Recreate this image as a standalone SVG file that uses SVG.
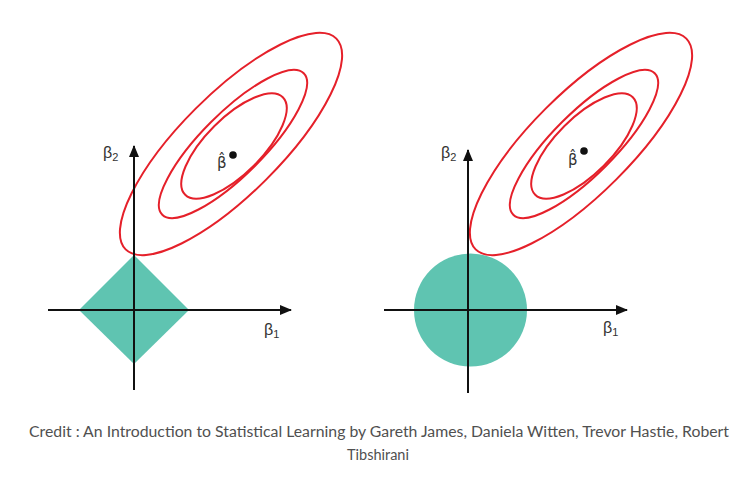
<svg xmlns="http://www.w3.org/2000/svg" width="756" height="488" viewBox="0 0 756 488">
  <defs>
    <marker id="arrow" markerUnits="userSpaceOnUse" markerWidth="12" markerHeight="10" refX="11" refY="5" orient="auto">
      <path d="M0,0 L12,5 L0,10 z" fill="#111"/>
    </marker>
    <style>
      .axis { stroke:#111; stroke-width:2; fill:none; marker-end:url(#arrow); }
      .region { fill:#5fc4b1; stroke:none; }
      .contour { fill:none; stroke:#e5202a; stroke-width:2; }
      .lbl { font-family:"Liberation Sans", Arial, sans-serif; fill:#333; }
      .bh { font-family:"DejaVu Sans", "Liberation Sans", sans-serif; fill:#333; font-size:15px; }
      .sym { font-size:16px; }
      .sub { font-size:11px; }
      .caption { font-family:"Lato", "Liberation Sans", sans-serif; font-size:14.5px; fill:#505050; }
    </style>
  </defs>
  <rect width="756" height="488" fill="#ffffff"/>

  <g id="lasso-region">
    <polygon class="region" points="134,255 189,310 134,364 79,310"/>
  </g>
  <g id="ridge-region">
    <circle class="region" cx="470.5" cy="310" r="56.5"/>
  </g>

  <g id="left-contours">
    <ellipse class="contour" cx="231" cy="144" rx="149" ry="50" transform="rotate(-45 231 144)"/>
    <ellipse class="contour" cx="233" cy="144" rx="100" ry="31" transform="rotate(-45 233 144)"/>
    <ellipse class="contour" cx="234" cy="146" rx="69" ry="28" transform="rotate(-45 234 146)"/>
  </g>
  <g id="right-contours">
    <ellipse class="contour" cx="581" cy="144" rx="149" ry="50" transform="rotate(-45 581 144)"/>
    <ellipse class="contour" cx="584" cy="144" rx="100" ry="31" transform="rotate(-45 584 144)"/>
    <ellipse class="contour" cx="584" cy="146" rx="69" ry="28" transform="rotate(-45 584 146)"/>
  </g>

  <g id="connectors">
    <line class="axis" x1="134" y1="390" x2="134" y2="146"/>
    <line class="axis" x1="48" y1="310" x2="291" y2="310"/>
    <line class="axis" x1="468" y1="393" x2="468" y2="150"/>
    <line class="axis" x1="384" y1="310" x2="627" y2="310"/>
  </g>

  <g id="left-beta-hat">
    <circle cx="233" cy="155" r="3.8" fill="#111"/>
    <text class="bh" x="217" y="168">β̂</text>
  </g>
  <g id="right-beta-hat">
    <circle cx="584" cy="151" r="3.8" fill="#111"/>
    <text class="bh" x="568" y="165">β̂</text>
  </g>

  <g id="left-labels">
    <text class="lbl sym" x="103" y="158">β<tspan class="sub" dy="3">2</tspan></text>
    <text class="lbl sym" x="264" y="335">β<tspan class="sub" dy="3">1</tspan></text>
  </g>
  <g id="right-labels">
    <text class="lbl sym" x="441" y="158">β<tspan class="sub" dy="3">2</tspan></text>
    <text class="lbl sym" x="603" y="333">β<tspan class="sub" dy="3">1</tspan></text>
  </g>

  <g id="caption">
    <text class="caption" x="379" y="437" text-anchor="middle" textLength="700" lengthAdjust="spacingAndGlyphs">Credit : An Introduction to Statistical Learning by Gareth James, Daniela Witten, Trevor Hastie, Robert</text>
    <text class="caption" x="378" y="460" text-anchor="middle">Tibshirani</text>
  </g>
</svg>
